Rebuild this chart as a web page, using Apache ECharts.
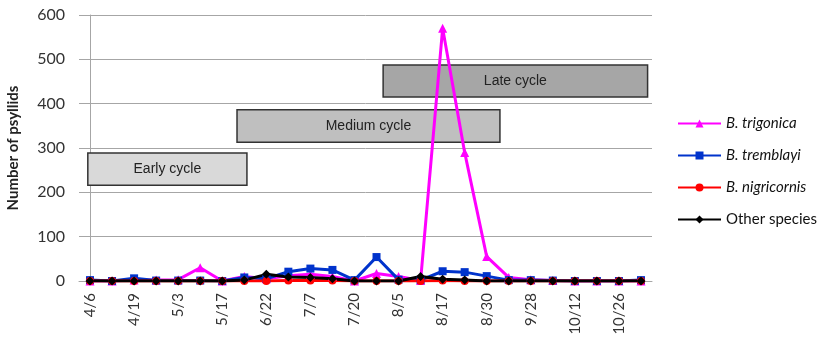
<!DOCTYPE html>
<html><head><meta charset="utf-8">
<script src="https://cdn.jsdelivr.net/npm/echarts@6/dist/echarts.min.js"></script>
<style>html,body{margin:0;padding:0;background:#fff}#c{width:830px;height:341px}</style>
</head><body><div id="c"></div>
<script>
const categories = ['4/6','4/12','4/19','4/26','5/3','5/10','5/17','6/8','6/22','6/29','7/7','7/14','7/20','7/28','8/5','8/11','8/17','8/23','8/30','9/14','9/28','10/5','10/12','10/19','10/26','11/2'];
const trigonica   = [0,0,2,2,3,30,0,10,5,12,15,10,0,17,10,1,570,290,55,8,3,1,0,0,0,0];
const tremblayi   = [2,0,6,1,1,1,0,8,5,21,28,25,2,54,3,2,22,20,11,2,2,1,0,0,0,2];
const nigricornis = [0,0,0,0,0,0,0,0,0,1,1,1,0,0,0,0,1,0,0,0,0,0,0,0,0,0];
const others      = [0,0,0,0,0,0,0,2,15,9,8,5,0,0,0,10,4,2,0,0,0,0,0,0,0,0];
const yTicks = [0,100,200,300,400,500,600];
// cycle annotation boxes (category index extents, y value extents)
const cycleNames = ['Early cycle','Medium cycle','Late cycle'];
const cycleStart = [-0.1, 6.67, 13.3];
const cycleEnd   = [7.12, 18.6, 25.3];
const cycleLow   = [216, 313, 415];
const cycleHigh  = [289, 386, 487];
const cycleFill  = ['#d9d9d9','#bfbfbf','#a6a6a6'];

const chart = echarts.init(document.getElementById('c'));
const font = 'Lato, "Open Sans", sans-serif';
function mk(name, data, color, symbol, size){
  return {name, type:'line', data, xAxisIndex:0, yAxisIndex:0, symbol, symbolSize:size,
    lineStyle:{color, width:3}, itemStyle:{color}, z:3, animation:false};
}
chart.setOption({
  animation:false,
  grid:{left:79, right:178, top:15, bottom:60, outerBoundsMode:'none', containLabel:false},
  xAxis:[{type:'category', data:categories, boundaryGap:true,
    axisLine:{lineStyle:{color:'#a6a6a6'}}, axisTick:{show:false},
    axisLabel:{interval:1, rotate:90, color:'#333', fontSize:15, fontFamily:font, margin:12}},
    {type:'value', min:-0.5, max:25.5, show:false}],
  yAxis:{type:'value', min:0, max:600, interval:100,
    name:'Number of psyllids', nameLocation:'middle', nameGap:58, nameRotate:90,
    nameTextStyle:{fontWeight:'bold', fontSize:15, color:'#222', fontFamily:font},
    axisLine:{show:true, lineStyle:{color:'#a6a6a6'}}, axisTick:{show:false},
    axisLabel:{color:'#333', fontSize:16, fontFamily:font, margin:14},
    splitLine:{lineStyle:{color:'#a6a6a6'}}},
  legend:{orient:'vertical', left:672, top:111, itemGap:17, itemWidth:43, itemHeight:10,
    textStyle:{fontSize:15, color:'#111', fontFamily:font,
      rich:{i:{fontStyle:'italic', fontSize:15, fontFamily:font, color:'#111'}, n:{fontSize:15, fontFamily:font, color:'#111'}}},
    formatter:function(n){return n==='Other species'?'{n|'+n+'}':'{i|'+n+'}';},
    data:['B. trigonica','B. tremblayi','B. nigricornis','Other species']},
  series:[
    {type:'custom', xAxisIndex:1, yAxisIndex:0, z:1, silent:true,
     data:cycleNames.map((n,i)=>[cycleStart[i],cycleEnd[i],cycleLow[i],cycleHigh[i],i]),
     renderItem:function(params, api){
       const i = api.value(4);
       const p0 = api.coord([api.value(0), api.value(3)]);
       const p1 = api.coord([api.value(1), api.value(2)]);
       return {type:'rect', shape:{x:p0[0], y:p0[1], width:p1[0]-p0[0], height:p1[1]-p0[1]},
         style:{fill:cycleFill[i], stroke:'#333', lineWidth:1.5},
         textContent:{style:{text:cycleNames[i], fill:'#222', font:'14px "Liberation Sans", Arial, sans-serif'}},
         textConfig:{position:'inside'}};
     }},
    mk('B. trigonica', trigonica, '#ff00ff', 'triangle', 9),
    mk('B. tremblayi', tremblayi, '#0033cc', 'rect', 8),
    mk('B. nigricornis', nigricornis, '#ff0000', 'circle', 8),
    mk('Other species', others, '#000000', 'diamond', 9)
  ]
});
</script></body></html>
